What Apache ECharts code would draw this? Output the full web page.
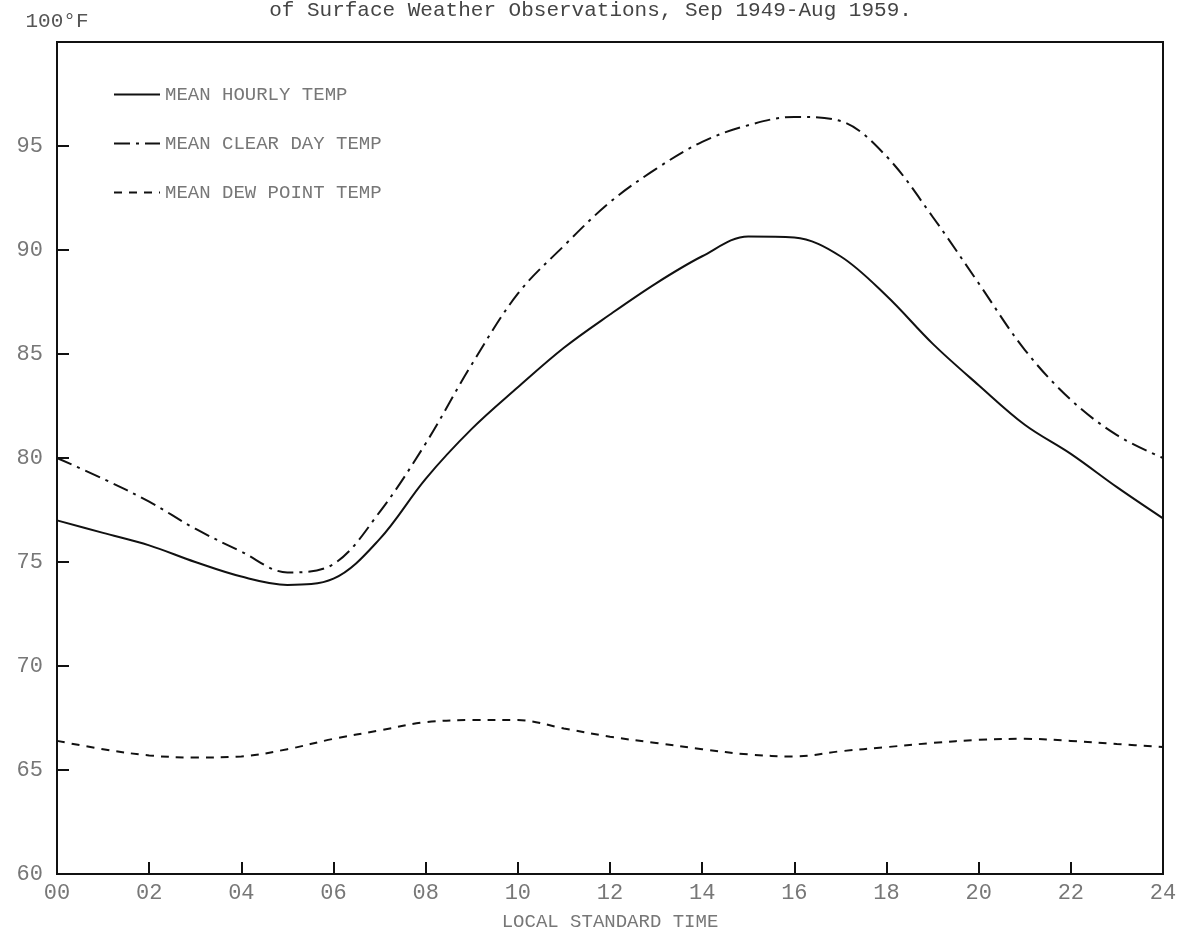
<!DOCTYPE html>
<html>
<head>
<meta charset="utf-8">
<script src="https://cdn.jsdelivr.net/npm/echarts@6/dist/echarts.min.js"></script>
<style>
html,body{margin:0;padding:0;background:#ffffff;}
#chart{width:1181px;height:944px;}
</style>
</head>
<body>
<div id="chart"></div>
<script>
var titleText = 'of Surface Weather Observations, Sep 1949-Aug 1959.';
var seriesNames = ['MEAN HOURLY TEMP', 'MEAN CLEAR DAY TEMP', 'MEAN DEW POINT TEMP'];
var hours = [0,1,2,3,4,5,6,7,8,9,10,11,12,13,14,15,16,17,18,19,20,21,22,23,24];
var meanHourly = [77.0,76.4,75.8,75.0,74.3,73.9,74.2,76.1,79.0,81.4,83.4,85.3,86.9,88.4,89.7,90.65,90.6,89.7,87.8,85.5,83.5,81.6,80.2,78.6,77.1];
var meanClearDay = [80.0,79.0,77.9,76.6,75.5,74.5,74.9,77.4,80.7,84.5,87.9,90.2,92.3,93.9,95.2,96.0,96.4,96.2,94.5,91.6,88.4,85.2,82.8,81.1,80.0];
var meanDewPoint = [66.4,66.0,65.7,65.6,65.65,66.0,66.5,66.9,67.3,67.4,67.4,67.0,66.6,66.3,66.0,65.75,65.65,65.9,66.1,66.3,66.45,66.5,66.4,66.25,66.1];
var xTickLabels = ['00','02','04','06','08','10','12','14','16','18','20','22','24'];
var xAxisName = 'LOCAL STANDARD TIME';
var yAxisName = '100\u00B0F';

var FONT = '"Liberation Mono", "DejaVu Sans Mono", monospace';
function pairs(vals){ return hours.map(function(h,i){ return [h, vals[i]]; }); }

var chart = echarts.init(document.getElementById('chart'), null, {renderer:'canvas'});
chart.setOption({
  backgroundColor: '#ffffff',
  animation: false,
  title: {
    text: titleText, left: 'center', top: -5,
    textStyle: {fontFamily: FONT, fontSize: 21, fontWeight: 'normal', color: '#444'}
  },
  legend: {
    orient: 'vertical', left: 108, top: 80, itemWidth: 46, itemHeight: 12, itemGap: 30,
    data: seriesNames,
    itemStyle: {opacity: 0},
    textStyle: {fontFamily: FONT, fontSize: 19, color: '#777'}
  },
  grid: {left: 57, right: 18, top: 42, bottom: 70, show: true, borderColor: '#111', borderWidth: 2, backgroundColor: 'transparent'},
  xAxis: {
    type: 'value', min: 0, max: 24, interval: 2,
    name: xAxisName, nameLocation: 'middle', nameGap: 38,
    nameTextStyle: {fontFamily: FONT, fontSize: 19, color: '#777'},
    axisLine: {show: true, lineStyle: {color: '#111', width: 2}},
    axisTick: {show: true, inside: true, length: 12, lineStyle: {color: '#111', width: 2}},
    splitLine: {show: false},
    axisLabel: {
      fontFamily: FONT, fontSize: 22, color: '#777', margin: 8,
      formatter: function(v){ return xTickLabels[Math.round(v/2)]; }
    }
  },
  yAxis: {
    type: 'value', min: 60, max: 100, interval: 5,
    name: yAxisName, nameLocation: 'end', nameGap: 10,
    nameTextStyle: {fontFamily: FONT, fontSize: 21, color: '#555', align: 'center', verticalAlign: 'bottom'},
    axisLine: {show: true, lineStyle: {color: '#111', width: 2}},
    axisTick: {show: true, inside: true, length: 12, lineStyle: {color: '#111', width: 2}},
    splitLine: {show: false},
    axisLabel: {
      fontFamily: FONT, fontSize: 22, color: '#777', margin: 14,
      formatter: function(v){ return v === 100 ? '' : String(v); }
    }
  },
  series: [
    {name: seriesNames[0], type: 'line', data: pairs(meanHourly), smooth: 0.35, symbol: 'none',
     lineStyle: {color: '#111', width: 2, type: 'solid'}, itemStyle: {color: '#111'}},
    {name: seriesNames[1], type: 'line', data: pairs(meanClearDay), smooth: 0.35, symbol: 'none',
     lineStyle: {color: '#111', width: 2, type: [16, 6, 3, 6]}, itemStyle: {color: '#111'}},
    {name: seriesNames[2], type: 'line', data: pairs(meanDewPoint), smooth: 0.35, symbol: 'none',
     lineStyle: {color: '#111', width: 2, type: [8, 7]}, itemStyle: {color: '#111'}}
  ]
});
</script>
</body>
</html>
